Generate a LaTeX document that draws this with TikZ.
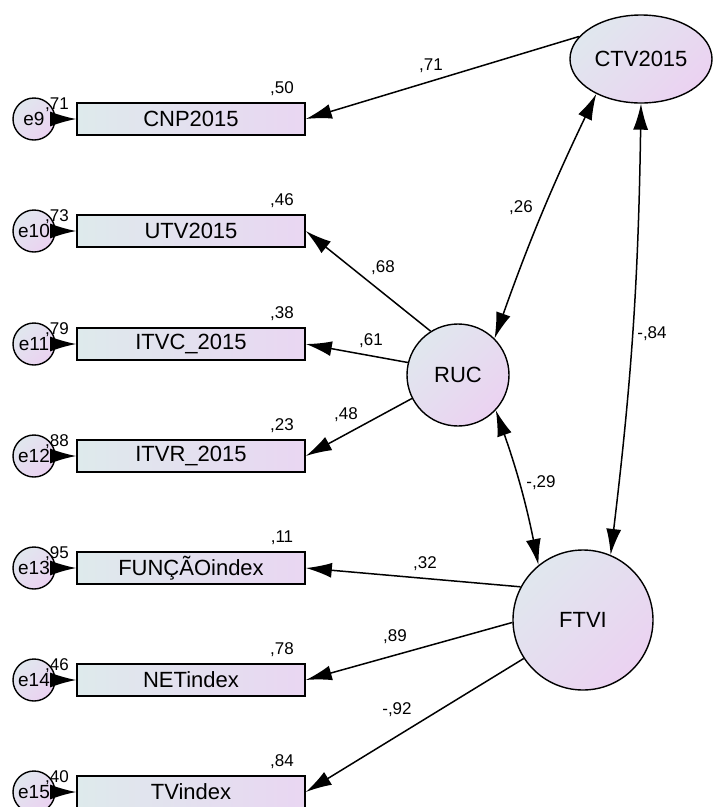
\documentclass[tikz,border=0pt]{standalone}
\usepackage{fontspec}
\setmainfont{Liberation Sans}
\usepackage{xcolor}
\usepackage{tikz}
\usetikzlibrary{arrows.meta,shapes.geometric}

\definecolor{boxl}{RGB}{222,234,236}
\definecolor{boxr}{RGB}{233,214,242}
\definecolor{latl}{RGB}{224,231,238}
\definecolor{latr}{RGB}{235,210,241}

\begin{document}
\begin{tikzpicture}[
    x=1pt, y=-1pt,
    obs/.style={rectangle, draw, line width=1.6pt, minimum width=228pt, minimum height=32pt, inner sep=0pt, left color=boxl, right color=boxr, font=\fontsize{22}{26}\selectfont},
    err/.style={circle, draw, line width=1.4pt, minimum size=42pt, inner sep=0pt, top color=latl, bottom color=latr, shading angle=45, font=\fontsize{19}{22}\selectfont},
    lat/.style={circle, draw, line width=1.4pt, inner sep=0pt, top color=latl, bottom color=latr, shading angle=45, font=\fontsize{22}{26}\selectfont},
    est/.style={inner sep=0pt, font=\fontsize{17}{20}\selectfont},
    arrow/.style={-{Latex[length=26pt,width=15pt]}, line width=1.5pt},
    cov/.style={{Latex[length=26pt,width=15pt]}-{Latex[length=26pt,width=15pt]}, line width=1.5pt}
]
\useasboundingbox (0,0) rectangle (714,807);

% Latent variables
\node[ellipse, draw, line width=1.4pt, minimum width=142pt, minimum height=88pt, inner sep=0pt, top color=latl, bottom color=latr, shading angle=45, font=\fontsize{22}{26}\selectfont] (ctv) at (641,59) {CTV2015};
\node[lat, minimum size=102pt] (ruc) at (458,375) {RUC};
\node[lat, minimum size=140pt] (ftvi) at (583,620) {FTVI};

% Observed variables
\node[obs] (cnp) at (191,119) {CNP2015};
\node[obs] (utv) at (191,231) {UTV2015};
\node[obs] (itvc) at (191,344) {ITVC\_2015};
\node[obs] (itvr) at (191,456) {ITVR\_2015};
\node[obs] (func) at (191,568) {FUNÇÃOindex};
\node[obs] (net) at (191,680) {NETindex};
\node[obs] (tvi) at (191,792) {TVindex};

% Error terms
\node[err] (e9) at (34,119) {e9};
\node[err] (e10) at (34,231) {e10};
\node[err] (e11) at (34,344) {e11};
\node[err] (e12) at (34,456) {e12};
\node[err] (e13) at (34,568) {e13};
\node[err] (e14) at (34,680) {e14};
\node[err] (e15) at (34,792) {e15};

% Error paths
\draw[arrow] (e9) -- (cnp);
\draw[arrow] (e10) -- (utv);
\draw[arrow] (e11) -- (itvc);
\draw[arrow] (e12) -- (itvr);
\draw[arrow] (e13) -- (func);
\draw[arrow] (e14) -- (net);
\draw[arrow] (e15) -- (tvi);

% Loadings
\draw[arrow] (ctv.160) -- (cnp.east);
\draw[arrow] (ruc.122) -- (utv.east);
\draw[arrow] (ruc.166) -- (itvc.east);
\draw[arrow] (ruc.207) -- (itvr.east);
\draw[arrow] (ftvi.152) -- (func.east);
\draw[arrow] (ftvi.182) -- (net.east);
\draw[arrow] (ftvi.213) -- (tvi.east);

% Covariances
\draw[cov] (ctv.218) to[bend right=3] (ruc.45);
\draw[cov] (ctv.270) to[bend left=3] (ftvi.67);
\draw[cov] (ruc.-43) to[bend left=4] (ftvi.129);

% Variances
\node[est] (v9) at (57,105) {,71};
\node[est] (v10) at (57,217) {,73};
\node[est] (v11) at (57,330) {,79};
\node[est] (v12) at (57,442) {,88};
\node[est] (v13) at (57,554) {,95};
\node[est] (v14) at (57,666) {,46};
\node[est] (v15) at (57,778) {,40};

% Squared multiple correlations
\node[est] (r1) at (282,89) {,50};
\node[est] (r2) at (282,201) {,46};
\node[est] (r3) at (282,314) {,38};
\node[est] (r4) at (282,426) {,23};
\node[est] (r5) at (282,538) {,11};
\node[est] (r6) at (282,650) {,78};
\node[est] (r7) at (282,762) {,84};

% Path estimates
\node[est] (p1) at (431,66) {,71};
\node[est] (p2) at (383,268) {,68};
\node[est] (p3) at (371,341) {,61};
\node[est] (p4) at (346,415) {,48};
\node[est] (p5) at (425,564) {,32};
\node[est] (p6) at (395,637) {,89};
\node[est] (p7) at (397,710) {-,92};
\node[est] (c1) at (521,208) {,26};
\node[est] (c2) at (652,334) {-,84};
\node[est] (c3) at (541,483) {-,29};

\end{tikzpicture}
\end{document}
